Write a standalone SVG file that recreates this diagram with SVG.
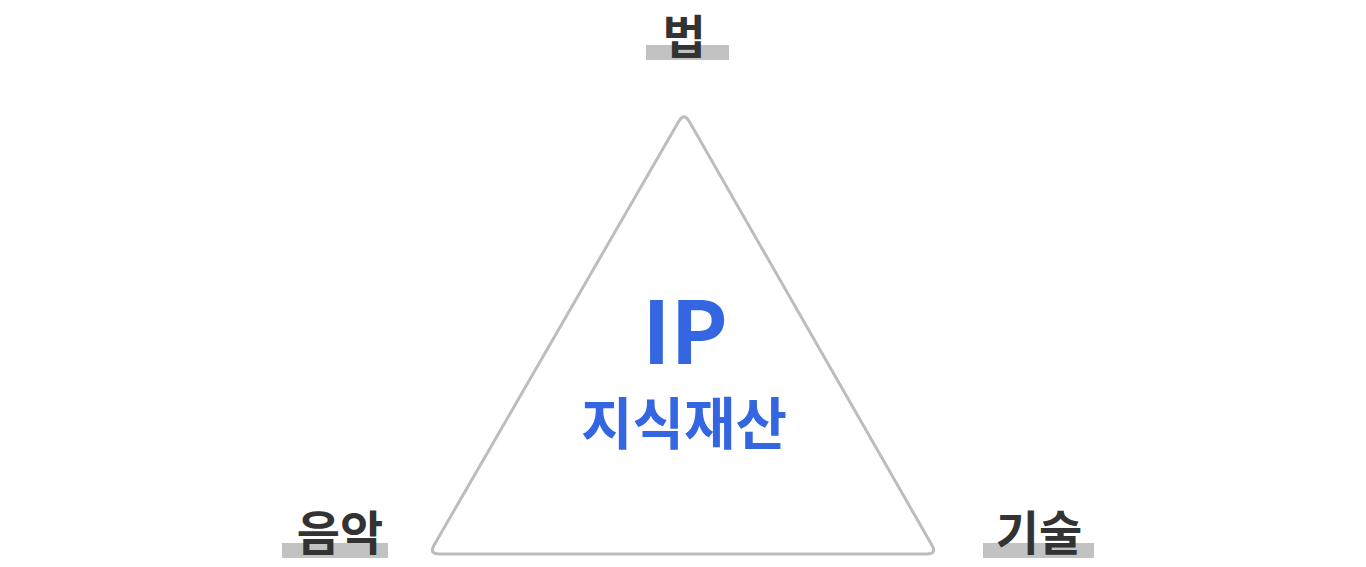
<svg xmlns="http://www.w3.org/2000/svg" width="1366" height="567" viewBox="0 0 1366 567">
<style>
.bar{fill:#c2c2c2}
.lbl{font-family:"Noto Sans CJK KR","Noto Sans",sans-serif;font-weight:700;font-size:47px;fill:#333333;text-anchor:middle}
.ctr{font-family:"Noto Sans CJK KR",sans-serif;font-weight:700;fill:#3366e0;text-anchor:middle}
.tri{fill:#ffffff;stroke:#bdbdbd;stroke-width:3}
</style>
<rect width="1366" height="567" fill="#ffffff"/>
<g id="connectors">
<path class="tri" d="M679,121 Q684,112.5 689,121 L932,545.3 Q937,554 927,554 L439,554 Q429,554 434,545.3 Z"/>
</g>
<g id="node-law">
<rect class="bar" x="646" y="45" width="83" height="15"/>
<text class="lbl" x="684" y="54">법</text>
</g>
<g id="node-music">
<rect class="bar" x="282" y="543" width="106" height="15"/>
<text class="lbl" x="340" y="550">음악</text>
</g>
<g id="node-tech">
<rect class="bar" x="983" y="543" width="111" height="15"/>
<text class="lbl" x="1039" y="550">기술</text>
</g>
<g id="node-ip">
<text class="ctr" x="685" y="364" font-size="86">IP</text>
<text class="ctr" x="684" y="444" font-size="56">지식재산</text>
</g>
</svg>
